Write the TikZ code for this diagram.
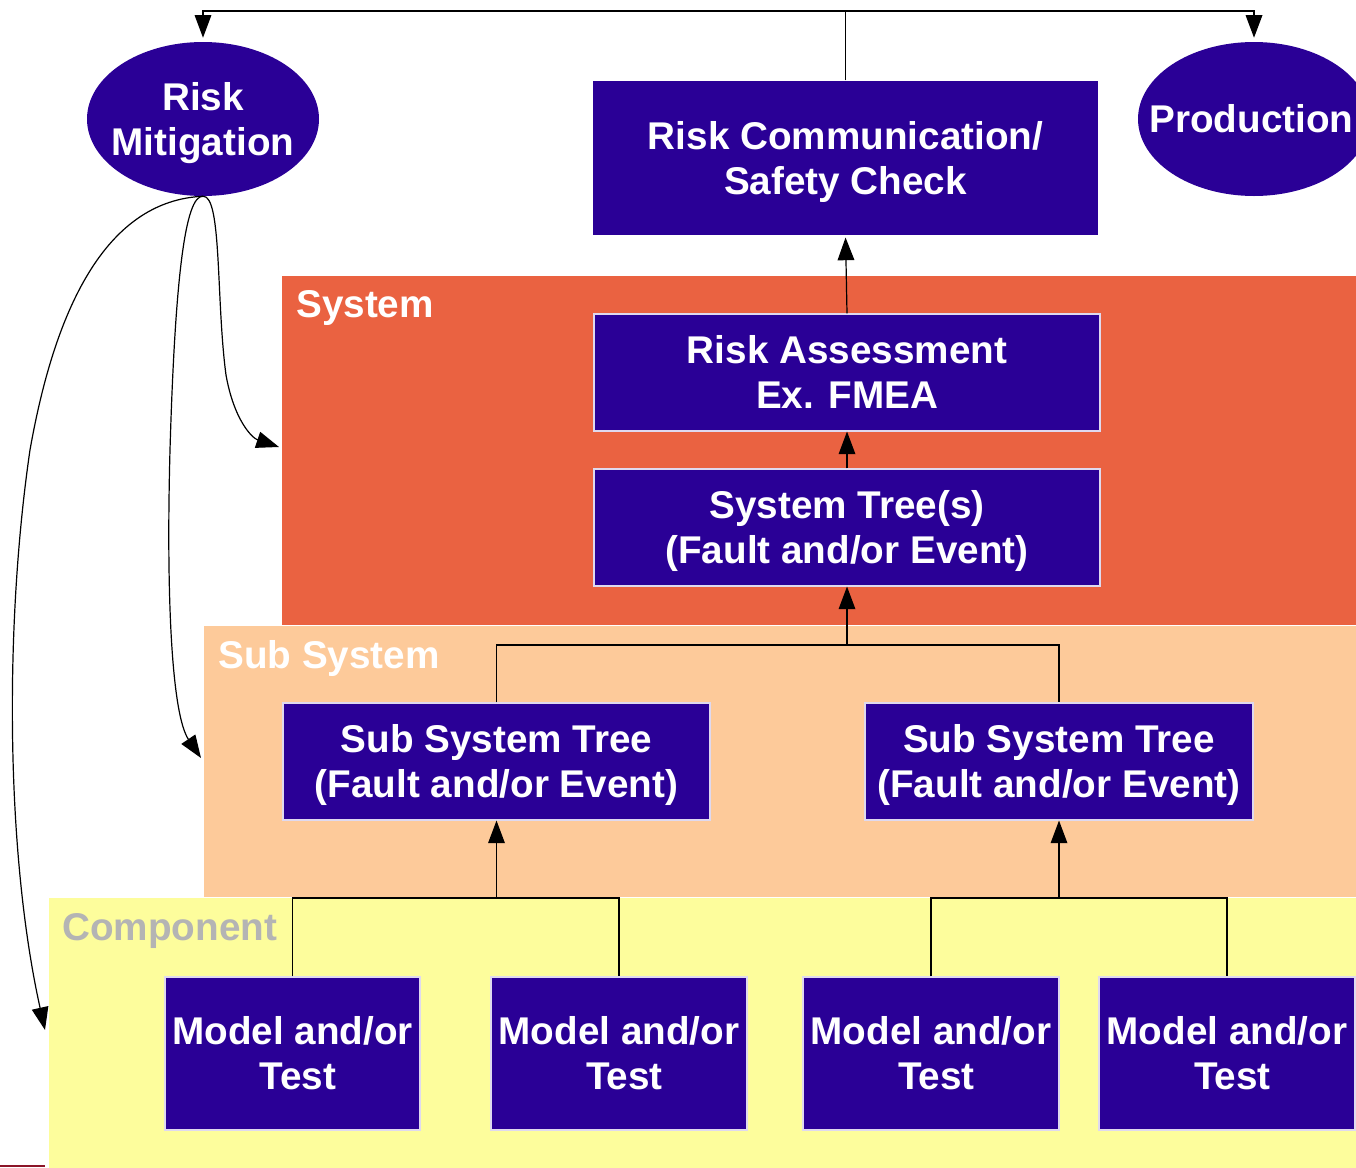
\documentclass[tikz,border=0pt]{standalone}
\usepackage{fontspec}
\setmainfont{Liberation Sans}
\usetikzlibrary{arrows.meta,shapes.geometric}

\definecolor{boxblue}{RGB}{42,0,150}
\definecolor{sysband}{RGB}{234,98,65}
\definecolor{subband}{RGB}{253,202,154}
\definecolor{compband}{RGB}{253,253,156}
\definecolor{complabel}{RGB}{180,180,180}
\definecolor{edgered}{RGB}{140,20,40}

% one text line with fixed height/depth so that caps sit visually centred
\newcommand\txtline[1]{\rule[-3.4pt]{0pt}{27.2pt}\smash{#1}}

\tikzset{
  bigtext/.style={font=\fontsize{29pt}{33.75pt}\selectfont\bfseries},
  sz/.style 2 args={minimum width=#1*0.75pt, minimum height=#2*0.75pt},
  blockbox/.style={rectangle, fill=boxblue, draw=white!85!boxblue, line width=0.8pt,
    text=white, align=center, inner sep=0pt, bigtext},
  oval/.style={ellipse, fill=boxblue, text=white, align=center, inner sep=0pt,
    sz={232}{154}, bigtext},
  band/.style={rectangle, draw=white, line width=1pt, anchor=north west, inner sep=0pt},
  bandlabel/.style={anchor=base west, inner sep=0pt, bigtext},
  link/.style={draw=black, line width=0.9pt},
  arr/.style={link, -{Triangle[length=17pt, width=12.5pt]}},
}

\begin{document}
\begin{tikzpicture}[x=0.75pt, y=-0.75pt]
\useasboundingbox (0,0) rectangle (1356,1167);

% level bands
\node[band, fill=sysband,  sz={1080}{350}] (sysband)  at (281,275) {};
\node[band, fill=subband,  sz={1158}{272}] (subband)  at (203,625) {};
\node[band, fill=compband, sz={1313}{275}] (compband) at (48,897) {};
\draw[edgered, line width=1.5pt] (0,1166) -- (45,1166);

\node[bandlabel, text=white]      (syslbl)  at (296,317.5) {System};
\node[bandlabel, text=white]      (sublbl)  at (218,668.5) {Sub System};
\node[bandlabel, text=complabel]  (complbl) at (62,940.5)  {Component};

% top row
\node[oval, inner xsep=-8pt]  (rm) at (203,119)  {\txtline{Risk}\\\txtline{Mitigation}};
\node[oval, inner xsep=-16pt] (pr) at (1254,119) {\txtline{\hspace*{-4pt}Production}};
\node[blockbox, draw=none, sz={505}{154}] (rc) at (845.5,158)
  {\txtline{Risk Communication/}\\\txtline{Safety Check}};

% system level
\node[blockbox, sz={506}{117}] (ra) at (847,372.5)
  {\txtline{Risk Assessment}\\\txtline{Ex. FMEA}};
\node[blockbox, sz={506}{117}] (st) at (847,527.5)
  {\txtline{System Tree(s)}\\\txtline{(Fault and/or Event)}};

% sub system level
\node[blockbox, sz={427}{117}] (sstl) at (496.5,761.5)
  {\txtline{Sub System Tree}\\\txtline{(Fault and/or Event)}};
\node[blockbox, sz={388}{117}] (sstr) at (1059,761.5)
  {\txtline{Sub System Tree}\\\txtline{(Fault and/or Event)}};

% component level
\node[blockbox, sz={255}{153}] (m1) at (292.5,1053.5) {\txtline{Model and/or}\\\txtline{\hspace*{0.28em}Test}};
\node[blockbox, sz={256}{153}] (m2) at (619,1053.5)   {\txtline{Model and/or}\\\txtline{\hspace*{0.28em}Test}};
\node[blockbox, sz={256}{153}] (m3) at (931,1053.5)   {\txtline{Model and/or}\\\txtline{\hspace*{0.28em}Test}};
\node[blockbox, sz={256}{153}] (m4) at (1227,1053.5)  {\txtline{Model and/or}\\\txtline{\hspace*{0.28em}Test}};

% top distribution
\coordinate (topj) at (rc.north |- 0,11);
\draw[link] (rc.north) -- (topj);
\draw[arr, shorten >=3pt] (topj) -| (rm.north);
\draw[arr, shorten >=3pt] (topj) -| (pr.north);

% system chain
\draw[arr, shorten >=1.5pt] (ra.north) -- (rc.south);
\draw[arr] (st.north) -- (ra.south);

% sub system merge
\coordinate (subj) at (st.south |- 0,645);
\draw[link] (sstl.north) |- (subj) -| (sstr.north);
\draw[arr] (subj) -- (st.south);

% component merges
\coordinate (cj1) at (sstl.south |- 0,898);
\coordinate (cj2) at (sstr.south |- 0,898);
\draw[link] (m1.north) |- (cj1) -| (m2.north);
\draw[link] (m3.north) |- (cj2) -| (m4.north);
\draw[arr] (cj1) -- (sstl.south);
\draw[arr] (cj2) -- (sstr.south);

% mitigation feedback to each level
\coordinate (tosys)  at (279,447);
\coordinate (tosub)  at (201,758);
\coordinate (tocomp) at (45,1030);
\draw[arr] (rm.south) .. controls (222,195) and (216,300) .. (226,375)
                      .. controls (234,420) and (252,438) .. (tosys);
\draw[arr] (rm.south) .. controls (185,195) and (175,280) .. (170,450)
                      .. controls (166,600) and (172,715) .. (tosub);
\draw[arr] (rm.south) .. controls (120,200) and (60,280) .. (30,450)
                      .. controls (5,620) and (5,850) .. (tocomp);
\end{tikzpicture}
\end{document}
